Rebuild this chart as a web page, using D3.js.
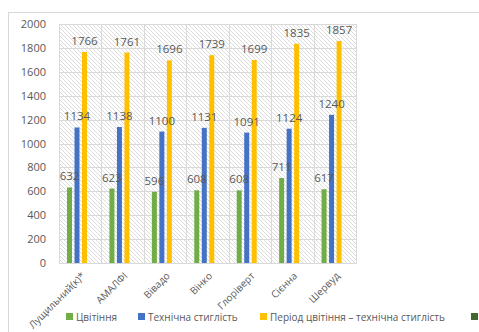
<!DOCTYPE html>
<html>
<head>
<meta charset="utf-8">
<script src="https://cdn.jsdelivr.net/npm/d3@7"></script>
<style>
  body { margin: 0; background: #fff; }
  text { font-family: "Open Sans", sans-serif; fill: #595959; }
</style>
</head>
<body>
<div id="chart"></div>
<script>
// Data
var categories   = ['Лущильний(к)*', 'АМАЛФІ', 'Вівадо', 'Вінко', 'Глоріверт', 'Сієнна', 'Шервуд'];
var series_names = ['Цвітіння', 'Технічна стиглість', 'Період цвітіння – технічна стиглість', ''];
var flowering    = [632, 623, 596, 608, 608, 711, 617];
var maturity     = [1134, 1138, 1100, 1131, 1091, 1124, 1240];
var period       = [1766, 1761, 1696, 1739, 1699, 1835, 1857];
var fourth       = [null, null, null, null, null, null, null];
var y_ticks      = [0, 200, 400, 600, 800, 1000, 1200, 1400, 1600, 1800, 2000];

var colors = ['#70AD47', '#4472C4', '#FFC000', '#43682B'];
var all_series = [flowering, maturity, period, fourth];

// The SVG Element
var chart_width  = 479;
var chart_height = 332;
var plot = { left: 59, right: 356, top: 24, bottom: 263 };

var svg = d3.select('#chart')
    .append('svg')
    .attr('width', chart_width)
    .attr('height', chart_height);

// hatch pattern for the plot area
var pattern = svg.append('defs')
    .append('pattern')
    .attr('id', 'hatch')
    .attr('patternUnits', 'userSpaceOnUse')
    .attr('width', 4)
    .attr('height', 4);
pattern.append('rect').attr('width', 4).attr('height', 4).attr('fill', '#fff');
pattern.append('path')
    .attr('d', 'M-1,-1 L5,5 M3,-1 L5,1 M-1,3 L1,5')
    .attr('stroke', '#DCDCDC')
    .attr('stroke-width', 1);

// chart frame
svg.append('rect')
    .attr('x', 8.5)
    .attr('y', 12.5)
    .attr('width', 600)
    .attr('height', 400)
    .attr('fill', 'none')
    .attr('stroke', '#D9D9D9');

// Scales
var scale_x = d3.scaleBand()
    .domain(categories)
    .range([plot.left, plot.right]);

var scale_inner = d3.scaleBand()
    .domain(d3.range(4))
    .range([8, 35.5])
    .paddingInner(1 / 3);

var scale_y = d3.scaleLinear()
    .domain([0, 2000])
    .range([plot.bottom, plot.top]);

// plot background
svg.append('rect')
    .attr('x', plot.left)
    .attr('y', plot.top)
    .attr('width', plot.right - plot.left)
    .attr('height', plot.bottom - plot.top)
    .attr('fill', 'url(#hatch)');

// gridlines
svg.append('g')
    .selectAll('line')
    .data(y_ticks)
    .enter()
    .append('line')
    .attr('x1', plot.left)
    .attr('x2', plot.right)
    .attr('y1', function(d) { return Math.round(scale_y(d)) + 0.5; })
    .attr('y2', function(d) { return Math.round(scale_y(d)) + 0.5; })
    .attr('stroke', '#D9D9D9');

svg.append('g')
    .selectAll('line')
    .data(d3.range(categories.length + 1))
    .enter()
    .append('line')
    .attr('x1', function(i) { return Math.round(plot.left + i * scale_x.step()) + 0.5; })
    .attr('x2', function(i) { return Math.round(plot.left + i * scale_x.step()) + 0.5; })
    .attr('y1', plot.top)
    .attr('y2', plot.bottom)
    .attr('stroke', '#D9D9D9');

// Y axis
var axis_y = d3.axisLeft(scale_y)
    .tickValues(y_ticks)
    .tickFormat(d3.format('d'))
    .tickSize(0)
    .tickPadding(13);

svg.append('g')
    .attr('class', 'y-axis')
    .attr('transform', 'translate(' + plot.left + ',0)')
    .call(axis_y)
    .call(function(g) { g.select('.domain').remove(); })
    .selectAll('text')
    .style('font-family', '"Open Sans", sans-serif')
    .style('font-size', '11px')
    .attr('fill', '#595959');

// X axis
var axis_x = d3.axisBottom(scale_x).tickSize(0);

var gx = svg.append('g')
    .attr('class', 'x-axis')
    .attr('transform', 'translate(0,' + plot.bottom + ')')
    .call(axis_x);
gx.select('.domain').attr('stroke', '#D9D9D9');
gx.selectAll('text')
    .style('font-family', '"Open Sans", sans-serif')
    .style('font-size', '10px')
    .attr('fill', '#595959')
    .attr('text-anchor', 'end')
    .attr('y', 0)
    .attr('dy', '0.35em')
    .attr('transform', 'translate(3,11) rotate(-45)');

// Bars
all_series.forEach(function(values, s) {
    var rows = values.map(function(v, i) { return { v: v, cat: categories[i] }; })
        .filter(function(d) { return d.v != null; });
    svg.append('g')
        .selectAll('rect')
        .data(rows)
        .enter()
        .append('rect')
        .attr('x', function(d) { return scale_x(d.cat) + scale_inner(s); })
        .attr('y', function(d) { return scale_y(d.v); })
        .attr('width', scale_inner.bandwidth())
        .attr('height', function(d) { return plot.bottom - scale_y(d.v); })
        .attr('fill', colors[s]);
});

// Data labels
all_series.slice(0, 3).forEach(function(values, s) {
    svg.append('g')
        .selectAll('text')
        .data(values)
        .enter()
        .append('text')
        .attr('x', function(d, i) { return scale_x(categories[i]) + scale_inner(s) + scale_inner.bandwidth() / 2; })
        .attr('y', function(d) { return scale_y(d) - 7; })
        .attr('text-anchor', 'middle')
        .style('font-size', '11.5px')
        .text(function(d) { return d; });
});

// Legend
var legend_x = [66, 138, 260, 471];
var legend = svg.append('g')
    .selectAll('g')
    .data(series_names)
    .enter()
    .append('g')
    .attr('transform', function(d, i) { return 'translate(' + legend_x[i] + ',313)'; });

legend.append('rect')
    .attr('width', 7)
    .attr('height', 7)
    .attr('fill', function(d, i) { return colors[i]; });

legend.append('text')
    .attr('x', 10)
    .attr('y', 7.5)
    .style('font-size', '10px')
    .text(function(d) { return d; });
</script>
</body>
</html>
